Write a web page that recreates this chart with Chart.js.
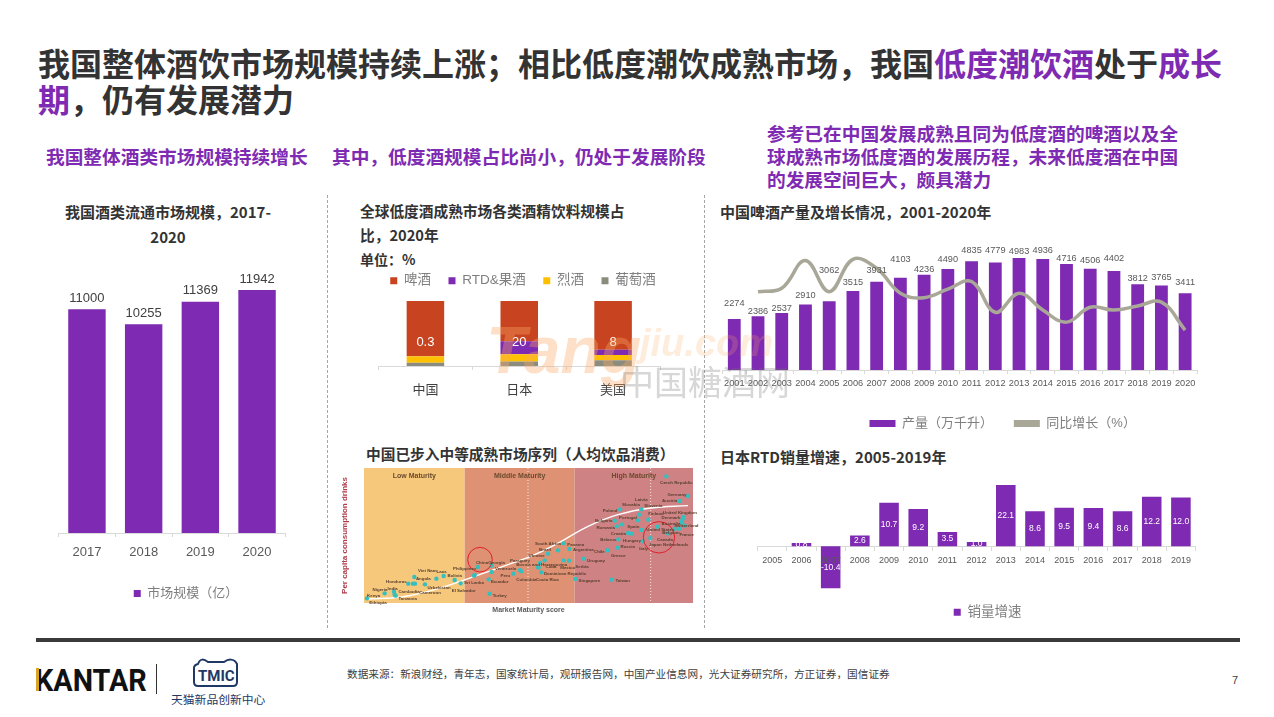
<!DOCTYPE html>
<html lang="zh-CN">
<head>
  <meta charset="UTF-8">
  <title>低度潮饮酒市场</title>
  <script src="https://cdn.jsdelivr.net/npm/chart.js"></script>
  <style>
    html, body { margin: 0; padding: 0; background: #fff; }
    body { position: relative; width: 1274px; height: 717px; overflow: hidden; font-family: "Noto Sans CJK SC", sans-serif; color: #333; }
    canvas, .t, .sep, .wm { position: absolute; }
    .t { white-space: nowrap; }
    .b { font-weight: 700; }
    .p { color: #7E2AB2; }
    .h { font-size: 18.7px; font-weight: 700; color: #7E2AB2; line-height: 23px; }
    .c { font-size: 14.7px; font-weight: 700; color: #333; line-height: 24px; }
    .sep { width: 0; top: 195px; height: 433px; border-left: 1px dashed #A6A6A6; }
    .wm { pointer-events: none; white-space: nowrap; }
  </style>
</head>
<body>
  <div class="t b" style="left:38px;top:44px;font-size:32px;line-height:37px;">我国整体酒饮市场规模持续上涨；相比低度潮饮成熟市场，我国<span class="p">低度潮饮酒</span>处于<span class="p">成长</span></div>
  <div class="t b" style="left:38px;top:80px;font-size:32px;line-height:37px;"><span class="p">期</span>，仍有发展潜力</div>

  <div class="t h" style="left:46px;top:144px;">我国整体酒类市场规模持续增长</div>
  <div class="t h" style="left:332px;top:144px;">其中，低度酒规模占比尚小，仍处于发展阶段</div>
  <div class="t h" style="left:767px;top:121px;">参考已在中国发展成熟且同为低度酒的啤酒以及全<br>球成熟市场低度酒的发展历程，未来低度酒在中国<br>的发展空间巨大，颇具潜力</div>

  <div class="sep" style="left:327px;"></div>
  <div class="sep" style="left:704px;"></div>

  <div class="t c" style="left:38px;width:260px;top:199px;text-align:center;line-height:25px;font-size:15px;">我国酒类流通市场规模，2017-<br>2020</div>
  <div class="t c" style="left:360px;top:199px;">全球低度酒成熟市场各类酒精饮料规模占<br>比，2020年</div>
  <div class="t c" style="left:360px;top:247px;font-size:14px;">单位：%</div>
  <div class="t c" style="left:366px;top:442px;">中国已步入中等成熟市场序列（人均饮品消费）</div>
  <div class="t c" style="left:720px;top:200px;font-size:15px;">中国啤酒产量及增长情况，2001-2020年</div>
  <div class="t c" style="left:720px;top:445px;font-size:15px;">日本RTD销量增速，2005-2019年</div>

  <canvas id="marketChart" width="292" height="350" style="left:40px;top:260px;"></canvas>
  <canvas id="shareChart" width="348" height="136" style="left:348px;top:264px;"></canvas>
  <canvas id="maturityChart" width="365" height="165" style="left:335px;top:460px;filter:blur(0.35px);"></canvas>
  <canvas id="beerChart" width="554" height="205" style="left:720px;top:235px;"></canvas>
  <canvas id="rtdChart" width="464" height="149" style="left:757px;top:480px;"></canvas>

  <div class="wm" style="left:486px;top:312px;font:italic 700 66px 'Liberation Sans';color:rgba(250,170,100,.36);">Tang</div>
  <div class="wm" style="left:640px;top:322px;font:italic 700 38px 'Liberation Sans';color:rgba(250,170,100,.22);">jiu.com</div>
  <div class="wm" style="left:620px;top:356px;font-size:34px;color:rgba(110,110,110,.28);">中国糖酒网</div>

  <div class="sep" style="left:36px;top:638px;width:1204px;height:4px;border:0;background:#3A3A3A;"></div>

  <div class="t" style="left:35px;top:660px;font:700 32px/40px Roboto;color:#111;transform:scaleX(.9);transform-origin:left;">KANTAR</div>
  <div class="sep" style="left:36px;top:668px;width:3px;height:23px;border:0;background:#D9A520;"></div>
  <div class="sep" style="left:156px;top:664px;height:30px;border-left:1px solid #333;"></div>
  <svg style="position:absolute;left:190px;top:655px;" width="56" height="34" viewBox="0 0 56 34">
    <path d="M8 9 C10 3 14 4 18 7 L34 7 C38 4 44 3 47 9 L47 27 Q47 31 43 31 L8 31 Q4 31 4 27 L4 13 Q4 10 8 9 Z" fill="none" stroke="#1F3864" stroke-width="2"/>
    <text x="8" y="26" font-family="Roboto" font-weight="700" font-size="15" fill="#1F3864">TMIC</text>
  </svg>
  <div class="t" style="left:171px;top:690px;font-size:11.8px;line-height:18px;color:#1F3864;">天猫新品创新中心</div>
  <div class="t" style="left:347px;top:666px;font-size:10.65px;line-height:16px;color:#404040;">数据来源：新浪财经，青年志，国家统计局，观研报告网，中国产业信息网，光大证券研究所，方正证券，国信证券</div>
  <div class="t" style="left:1232px;top:672px;font:11px/16px 'Liberation Sans';color:#404040;">7</div>

  <script>
    // chart data
    const marketYears = ['2017', '2018', '2019', '2020'];
    const marketSize = [11000, 10255, 11369, 11942];

    const shareCountries = ['中国', '日本', '美国'];
    const shareWine = [5, 7, 9];
    const shareSpirits = [10, 11, 8];
    const shareRtd = [0.3, 20, 8];
    const shareBeer = [84.7, 62, 75];

    const beerYears = ['2001', '2002', '2003', '2004', '2005', '2006', '2007', '2008', '2009', '2010', '2011', '2012', '2013', '2014', '2015', '2016', '2017', '2018', '2019', '2020'];
    const beerOutput = [2274, 2386, 2537, 2910, 3062, 3515, 3931, 4103, 4236, 4490, 4835, 4779, 4983, 4936, 4716, 4506, 4402, 3812, 3765, 3411];
    const beerGrowth = [null, 4.9, 6.0, 14.7, 4.9, 15.1, 12.3, 4.4, 3.0, 5.7, 8.1, -1.6, 4.4, -0.9, -4.7, 0.0, -0.9, 0.4, 1.6, -7.2];

    const rtdYears = ['2005', '2006', '2007', '2008', '2009', '2010', '2011', '2012', '2013', '2014', '2015', '2016', '2017', '2018', '2019'];
    const rtdGrowth = [0, 0.8, -10.4, 2.6, 10.7, 9.2, 3.5, 1.0, 22.1, 8.6, 9.5, 9.4, 8.6, 12.2, 12.0];

    const zoneNames = ['Low Maturity', 'Middle Maturity', 'High Maturity'];
    const zoneEdges = [0, 302, 632, 987];
    const quartileEdges = [492, 860];
    const curveScore = [9, 112, 212, 332, 432, 512, 592, 672, 762, 862, 972];
    const curveDrinks = [12, 18, 40, 80, 115, 145, 185, 230, 265, 285, 292];
    const circleScore = [348, 885];
    const circleDrinks = [130, 197];
    const countryNames = ['Ethiopia', 'Kenya', 'Nigeria', 'India', 'Tanzania', 'Honduras', 'Cambodia', 'Cameroon', 'Angola', 'Uzbekistan', 'Viet Nam', 'Laos', 'Bolivia', 'El Salvador', 'Philippines', 'Sri Lanka', 'China', 'Georgia', 'Venezuela', 'Ecuador', 'Turkey', 'Peru', 'Paraguay', 'Colombia', 'Costa Rica', 'Bosnia and Herzegovina', 'Ukraine', 'Brazil', 'South Africa', 'Panama', 'Argentina', 'Cuba', 'Mexico', 'Serbia', 'Dominican Republic', 'Uruguay', 'Chile', 'Singapore', 'Taiwan', 'Greece', 'Russia', 'Belarus', 'Hungary', 'Croatia', 'Romania', 'Spain', 'Bulgaria', 'Portugal', 'Poland', 'Slovakia', 'Latvia', 'Slovenia', 'Finland', 'Italy', 'Japan', 'Canada', 'Netherlands', 'United States', 'Belgium', 'France', 'Switzerland', 'Australia', 'Denmark', 'United Kingdom', 'Austria', 'Germany', 'Czech Republic'];
    const countryScore = [9, 62, 90, 92, 95, 133, 147, 153, 151, 183, 217, 239, 272, 290, 332, 330, 342, 383, 383, 374, 377, 448, 468, 472, 532, 524, 542, 552, 582, 599, 616, 528, 599, 615, 522, 660, 730, 634, 743, 730, 761, 763, 792, 802, 758, 832, 752, 774, 768, 825, 832, 853, 822, 836, 859, 912, 932, 880, 945, 962, 952, 954, 957, 957, 947, 972, 907];
    const countryDrinks = [14, 29, 34, 25, 22, 58, 58, 58, 78, 56, 73, 81, 69, 59, 84, 82, 108, 112, 93, 71, 28, 88, 99, 95, 92, 107, 128, 148, 158, 179, 162, 120, 128, 127, 107, 133, 158, 72, 70, 158, 166, 191, 210, 208, 230, 219, 247, 236, 281, 265, 281, 250, 248, 185, 195, 209, 222, 229, 223, 232, 241, 247, 258, 254, 306, 321, 380];

    // label placement, px from each point (not data)
    const countryLabelShift = [[11,4],[-11,2],[-14,-2],[-2,-6],[12,3],[-12,-2],[-4,8],[15,9],[9,2],[14,3],[-9,-8],[-2,-4],[0,-4],[3,7],[-10,-6],[0,7],[4,-4],[5,-3],[14,-3],[11,2],[10,2],[-8,2],[0,-9],[5,8],[6,7],[3,-3],[-8,-5],[-3,-4],[-10,-7],[12,1],[14,1],[11,4],[4,7],[13,6],[27,6],[12,2],[-8,1],[14,2],[11,1],[11,5],[10,-1],[-10,0],[4,8],[-13,0],[-11,1],[-8,-3],[-11,0],[6,-7],[-10,1],[-8,-10],[0,-10],[5,-14],[18,-7],[1,7],[5,7],[-3,6],[1,16],[3,3],[-8,4],[2,9],[5,3],[-11,3],[-12,1],[-3,-6],[-10,0],[-11,-1],[10,6]];
    const beerLabelLift = [15, 5, 5, 9, 31, 9, 11, 18, 5, 10, 11, 12, 7, 9, 6, 8, 13, 6, 8, 11];

    const PURPLE = '#7E2AB2';
    const AXIS = '#D9D9D9';
    const SANS = '"Liberation Sans", "Noto Sans CJK SC", sans-serif';

    Chart.defaults.animation = false;
    Chart.defaults.responsive = false;
    Chart.defaults.font.family = SANS;

    function drawText(ctx, text, x, y, font, color) {
      ctx.save();
      ctx.font = font;
      ctx.fillStyle = color;
      ctx.textAlign = 'center';
      ctx.textBaseline = 'middle';
      ctx.fillText(text, x, y);
      ctx.restore();
    }

    // trail = extra spaces after each dataset's legend text, widens the gaps
    function flatLegend(size, boxW, boxH, gap, trail) {
      return {
        labels: {
          color: '#7F7F7F',
          font: { size: size },
          boxWidth: boxW,
          boxHeight: boxH,
          padding: gap,
          sort: (a, b) => a.datasetIndex - b.datasetIndex,
          generateLabels: chart => Chart.defaults.plugins.legend.labels.generateLabels(chart).map(l => {
            l.lineWidth = 0;
            if (trail) l.text += ' '.repeat(trail[l.datasetIndex]);
            return l;
          })
        }
      };
    }

    // legend is centred on the padded area, this moves it sideways
    function nudgeLegend(dx) {
      return {
        id: 'nudgeLegend',
        afterLayout(chart) {
          chart.legend.left += dx;
          chart.legend.right += dx;
        }
      };
    }

    function categoryAxis(size, color, height, padding) {
      return {
        offset: true,
        border: { color: AXIS },
        grid: { drawOnChartArea: false, color: AXIS, tickLength: 4 },
        ticks: { color: color, font: { size: size }, autoSkip: false, maxRotation: 0, padding: padding },
        afterFit: s => { s.height = height; }
      };
    }

    // invisible axis, only keeps a margin beside the plot
    function spacerAxis(position, width) {
      return {
        position: position,
        border: { display: false },
        grid: { display: false },
        ticks: { display: false },
        afterFit: s => { s.width = width; }
      };
    }

    // 我国酒类流通市场规模
    new Chart(document.getElementById('marketChart'), {
      type: 'bar',
      data: {
        labels: marketYears,
        datasets: [{ label: '市场规模（亿）', data: marketSize, backgroundColor: PURPLE, barPercentage: 0.66, categoryPercentage: 1 }]
      },
      options: {
        layout: { padding: { left: 18.6, right: 46.6, top: 10 } },
        scales: {
          x: categoryAxis(13, '#595959', 44, 8),
          y: { display: false, min: 0, max: 12924 }
        },
        plugins: { legend: { position: 'bottom', ...flatLegend(13, 7, 7, 10) }, tooltip: { enabled: false } }
      },
      plugins: [nudgeLegend(14), {
        id: 'marketLabels',
        afterDatasetsDraw(chart) {
          chart.getDatasetMeta(0).data.forEach((bar, i) => {
            drawText(chart.ctx, String(marketSize[i]), bar.x, bar.y - 11, '13px ' + SANS, '#404040');
          });
        }
      }]
    });

    // 全球低度酒成熟市场各类酒精饮料规模占比
    new Chart(document.getElementById('shareChart'), {
      type: 'bar',
      data: {
        labels: shareCountries,
        datasets: [
          { label: '葡萄酒', data: shareWine, backgroundColor: '#8C8C7E' },
          { label: '烈酒', data: shareSpirits, backgroundColor: '#FFC000' },
          { label: 'RTD&果酒', data: shareRtd, backgroundColor: PURPLE },
          { label: '啤酒', data: shareBeer, backgroundColor: '#C8431F' }
        ]
      },
      options: {
        datasets: { bar: { barPercentage: 0.4, categoryPercentage: 1 } },
        scales: {
          x: { ...categoryAxis(13, '#404040', 34, 13), stacked: true },
          y: { ...spacerAxis('left', 30.5), stacked: true, min: 0, max: 105.4 },
          rightGap: spacerAxis('right', 36)
        },
        plugins: {
          legend: { position: 'top', reverse: true, ...flatLegend(13.5, 7, 7, 10, [0, 2, 2, 2]) },
          tooltip: { enabled: false }
        }
      },
      plugins: [nudgeLegend(1), {
        id: 'rtdLabels',
        afterDatasetsDraw(chart) {
          const y = chart.scales.y.getPixelForValue(36);
          chart.getDatasetMeta(2).data.forEach((bar, i) => {
            drawText(chart.ctx, String(shareRtd[i]), bar.x, y, '13px ' + SANS, '#fff');
          });
        }
      }]
    });

    // 中国已步入中等成熟市场序列
    new Chart(document.getElementById('maturityChart'), {
      type: 'scatter',
      data: {
        datasets: [
          {
            data: circleScore.map((x, i) => ({ x: x, y: circleDrinks[i] })),
            pointRadius: [12.3, 15.7],
            pointBackgroundColor: 'transparent',
            pointBorderColor: '#E0202A',
            pointBorderWidth: 1,
            order: 0
          },
          {
            data: countryScore.map((x, i) => ({ x: x, y: countryDrinks[i] })),
            pointRadius: 2.2,
            pointBackgroundColor: '#35BFBE',
            pointBorderWidth: 0,
            order: 1
          },
          {
            data: curveScore.map((x, i) => ({ x: x, y: curveDrinks[i] })),
            showLine: true,
            pointRadius: 0,
            borderColor: '#FFFFFF',
            borderWidth: 1.4,
            tension: 0.4,
            order: 2
          }
        ]
      },
      options: {
        layout: { autoPadding: false, padding: { right: 7, top: 8 } },
        scales: {
          x: {
            min: 0, max: 987,
            border: { display: false },
            grid: { display: false },
            ticks: { display: false },
            title: { display: true, text: 'Market Maturity score', color: '#595959', font: { size: 7, weight: 'bold' }, padding: { top: 2, bottom: 11 } },
            afterFit: s => { s.height = 22; }
          },
          y: {
            min: 0, max: 405,
            border: { display: false },
            grid: { display: false },
            ticks: { display: false },
            title: { display: true, text: 'Per capita consumption drinks', color: '#B03A48', font: { size: 8, weight: 'bold' }, padding: { top: 5, bottom: 0 } },
            afterFit: s => { s.width = 29; }
          }
        },
        plugins: { legend: { display: false }, tooltip: { enabled: false } }
      },
      plugins: [{
        id: 'maturityZones',
        beforeDatasetsDraw(chart) {
          const { ctx, chartArea: a, scales: { x } } = chart;
          ['#F5C87C', '#DE9173', '#CE8283'].forEach((fill, i) => {
            const left = x.getPixelForValue(zoneEdges[i]);
            ctx.fillStyle = fill;
            ctx.fillRect(left, a.top, x.getPixelForValue(zoneEdges[i + 1]) - left, a.height);
          });
          ctx.save();
          ctx.strokeStyle = 'rgba(255,255,255,.8)';
          ctx.setLineDash([1, 2]);
          quartileEdges.forEach(v => {
            ctx.beginPath();
            ctx.moveTo(x.getPixelForValue(v), a.top);
            ctx.lineTo(x.getPixelForValue(v), a.bottom);
            ctx.stroke();
          });
          ctx.restore();
        },
        afterDatasetsDraw(chart) {
          const { ctx, chartArea: a, scales: { x, y } } = chart;
          zoneNames.forEach((name, i) => {
            const mid = x.getPixelForValue((zoneEdges[i] + zoneEdges[i + 1]) / 2);
            drawText(ctx, name, mid, a.top + 8.5, 'bold 7px ' + SANS, '#6B4A2E');
          });
          countryNames.forEach((name, i) => {
            const px = x.getPixelForValue(countryScore[i]) + countryLabelShift[i][0];
            const py = y.getPixelForValue(countryDrinks[i]) + countryLabelShift[i][1];
            drawText(ctx, name, px, py, 'bold 4.4px ' + SANS, '#5A4030');
          });
        }
      }]
    });

    // 中国啤酒产量及增长情况
    new Chart(document.getElementById('beerChart'), {
      type: 'bar',
      data: {
        labels: beerYears,
        datasets: [
          { label: '产量（万千升）', data: beerOutput, backgroundColor: PURPLE, barPercentage: 0.54, categoryPercentage: 1, order: 2, yAxisID: 'y' },
          { type: 'line', label: '同比增长（%）', data: beerGrowth, borderColor: '#A9A898', backgroundColor: '#A9A898', borderWidth: 3.5, pointRadius: 0, tension: 0.4, order: 1, yAxisID: 'y2' }
        ]
      },
      options: {
        layout: { padding: { left: 2.4, right: 77, top: 5 } },
        scales: {
          x: categoryAxis(9.2, '#595959', 37, 4),
          y: { display: false, min: 0, max: 5784 },
          y2: { display: false, min: -19.8, max: 21.2 }
        },
        plugins: { legend: { position: 'bottom', ...flatLegend(13, 26, 7, 10, [3, 0]) }, tooltip: { enabled: false } }
      },
      plugins: [nudgeLegend(43), {
        id: 'beerLabels',
        afterDatasetsDraw(chart) {
          chart.getDatasetMeta(0).data.forEach((bar, i) => {
            drawText(chart.ctx, String(beerOutput[i]), bar.x, bar.y - beerLabelLift[i], '9.2px ' + SANS, '#595959');
          });
        }
      }]
    });

    // 日本RTD销量增速
    new Chart(document.getElementById('rtdChart'), {
      type: 'bar',
      data: {
        labels: rtdYears,
        datasets: [{ label: '销量增速', data: rtdGrowth, backgroundColor: PURPLE, barPercentage: 0.67, categoryPercentage: 1 }]
      },
      options: {
        layout: { padding: { left: 0.7, right: 25.5, top: 5 } },
        scales: {
          x: {
            ...categoryAxis(9, '#595959', 20, 5),
            position: { y: 0 },
            ticks: { color: '#595959', font: { size: 9 }, autoSkip: false, maxRotation: 0, padding: 5, z: 1 }
          },
          y: { display: false, min: -12.68, max: 15.1 }
        },
        plugins: { legend: { position: 'bottom', ...flatLegend(13.5, 7, 7, 8) }, tooltip: { enabled: false } }
      },
      plugins: [nudgeLegend(11), {
        id: 'rtdLabels',
        afterDatasetsDraw(chart) {
          const top = chart.chartArea.top;
          chart.getDatasetMeta(0).data.forEach((bar, i) => {
            if (!rtdGrowth[i]) return;
            const y = (Math.max(bar.y, top) + bar.base) / 2;
            drawText(chart.ctx, rtdGrowth[i].toFixed(1), bar.x, y, '8.5px ' + SANS, '#fff');
          });
        }
      }]
    });
  </script>
</body>
</html>
